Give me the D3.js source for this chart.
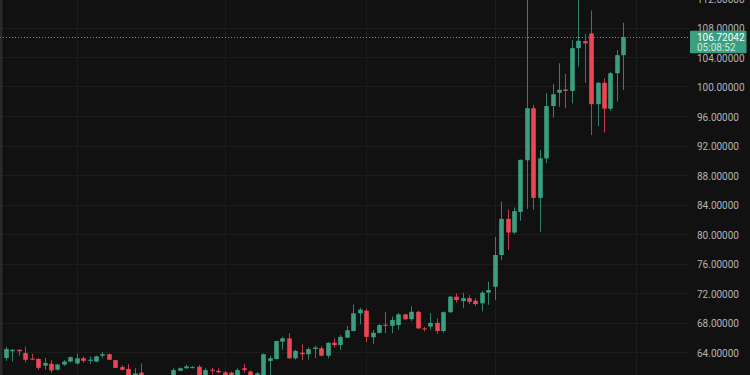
<!DOCTYPE html>
<html>
<head>
<meta charset="utf-8">
<script src="https://cdn.jsdelivr.net/npm/d3@7"></script>
<style>
  html, body { margin: 0; padding: 0; background: #111111; overflow: hidden; }
  svg { display: block; }
</style>
</head>
<body>
<div id="div_chart"></div>
<script>
var width_chart = 750;
var height_chart = 375;
var plot_right = 690;

// candles, oldest first
var opens = [63.2, 64.1, 64.3, 63.85, 63.1, 63.05, 62.15, 62.4, 61.6, 62.3,
  62.7, 62.45, 63.15, 62.8, 62.7, 63.5, 63.7, 62.9, 61.95, 61.7,
  60.7, 61.2, 60.6, 59.9, 60.3, 59.8, 60.5, 61.45, 61.8, 61.9,
  62.0, 60.8, 61.6, 61.45, 61.25, 61.2, 60.7, 61.8, 61.35, 60.8,
  60.8, 62.8, 63.05, 65.4, 65.85, 63.15, 63.9, 63.7, 64.4, 64.5,
  63.5, 65.25, 64.95, 65.95, 66.85, 69.25, 69.6, 66.0, 66.6, 67.7,
  67.55, 67.65, 69.1, 68.45, 69.45, 67.2, 67.45, 67.95, 66.85, 69.4,
  71.5, 70.9, 71.3, 70.95, 70.6, 72.05, 72.85, 77.15, 82.05, 80.2,
  83.0, 90.0, 97.05, 84.9, 90.25, 97.35, 99.15, 99.6, 99.4, 105.2,
  106.15, 107.2, 97.6, 100.5, 97.0, 101.8, 104.25];
var highs = [64.7, 64.4, 64.35, 64.75, 63.75, 63.2, 63.2, 62.9, 62.4, 62.9,
  63.4, 63.8, 63.4, 63.4, 63.5, 64.0, 63.8, 62.95, 62.2, 62.35,
  61.8, 62.45, 60.8, 60.5, 60.5, 60.7, 61.85, 61.9, 62.3, 62.1,
  62.25, 61.85, 61.85, 61.8, 61.4, 61.35, 61.8, 62.4, 61.5, 61.3,
  63.8, 63.5, 65.5, 66.05, 66.55, 64.3, 65.05, 64.65, 64.85, 64.8,
  65.3, 65.85, 66.3, 67.55, 70.45, 70.0, 69.85, 67.0, 67.8, 69.45,
  68.8, 69.3, 69.2, 70.2, 69.6, 67.4, 69.25, 68.55, 69.5, 71.6,
  71.95, 72.05, 71.7, 71.3, 72.3, 73.55, 79.6, 84.4, 83.35, 83.6,
  90.1, 113.5, 97.5, 91.4, 99.1, 100.35, 103.15, 101.7, 106.3, 113.0,
  107.1, 110.3, 100.6, 101.1, 102.0, 104.95, 108.65];
var lows = [62.8, 62.7, 63.5, 62.6, 62.9, 61.55, 61.6, 61.15, 61.5, 62.1,
  62.6, 62.3, 62.5, 62.4, 62.6, 63.2, 62.9, 61.8, 61.5, 60.5,
  60.4, 60.3, 59.5, 59.6, 59.4, 59.6, 60.3, 61.4, 61.7, 61.8,
  60.6, 60.6, 61.0, 61.1, 60.6, 60.5, 60.5, 61.2, 60.6, 60.6,
  60.6, 60.8, 63.0, 64.3, 63.05, 63.0, 62.9, 62.95, 63.15, 63.4,
  63.15, 64.6, 64.3, 65.9, 66.8, 67.75, 65.4, 65.1, 66.5, 66.55,
  66.55, 67.0, 68.3, 68.2, 67.1, 66.8, 67.0, 66.45, 66.6, 69.3,
  70.7, 69.95, 70.5, 70.2, 69.5, 70.4, 71.05, 76.45, 77.85, 80.0,
  81.8, 83.4, 83.3, 80.3, 89.6, 95.8, 97.25, 97.05, 97.7, 102.7,
  100.5, 93.4, 94.65, 93.75, 96.7, 97.95, 99.55];
var closes = [64.4, 64.3, 64.1, 62.95, 63.0, 61.85, 62.5, 61.5, 62.3, 62.7,
  63.3, 63.15, 62.8, 62.95, 63.4, 63.7, 62.95, 61.85, 61.6, 60.8,
  61.1, 60.6, 59.9, 60.3, 59.8, 60.5, 61.55, 61.8, 62.05, 61.95,
  60.8, 61.55, 61.5, 61.25, 60.8, 60.7, 61.55, 61.55, 60.8, 61.1,
  63.7, 63.15, 65.5, 65.85, 63.15, 64.15, 63.7, 64.4, 64.6, 63.5,
  65.25, 64.95, 66.05, 66.95, 69.25, 69.75, 66.05, 66.6, 67.65, 67.55,
  68.35, 69.1, 68.45, 69.45, 67.2, 67.1, 67.95, 66.85, 69.4, 71.5,
  71.05, 71.3, 70.8, 70.5, 72.05, 72.4, 77.15, 82.05, 80.2, 83.1,
  90.05, 97.05, 84.9, 90.25, 97.35, 98.95, 99.55, 99.4, 105.2, 106.2,
  105.85, 97.6, 100.5, 97.0, 101.8, 104.25, 106.72];

var price_ticks = [64, 68, 72, 76, 80, 84, 88, 92, 96, 100, 104, 108, 112];
var grid_bars = [11, 34, 56, 76, 98];
var last_price = 106.72042;
var countdown = "05:08:52";

var up_color = "#3a9f81";
var down_color = "#ec4654";

var candles = opens.map(function (o, i) {
    return {i: i, o: o, h: highs[i], l: lows[i], c: closes[i]};
});

var svg = d3.select('#div_chart').append("svg")
    .attr("width", width_chart)
    .attr("height", height_chart);

svg.append("rect")
    .attr("width", width_chart)
    .attr("height", height_chart)
    .attr("fill", "#111111");

var x = d3.scaleLinear().domain([0, candles.length - 1]).range([6, 623.3]);
var y = d3.scaleLinear().domain([64, 108]).range([352, 27.5]);

// grid
svg.append("g").selectAll("line")
    .data(price_ticks)
    .enter().append("line")
    .attr("x1", 0).attr("x2", plot_right)
    .attr("y1", function (d) { return Math.round(y(d)) + 0.5; })
    .attr("y2", function (d) { return Math.round(y(d)) + 0.5; })
    .attr("stroke", "#1c1c1c");

svg.append("g").selectAll("line")
    .data(grid_bars)
    .enter().append("line")
    .attr("x1", function (d) { return Math.round(x(d)) + 0.5; })
    .attr("x2", function (d) { return Math.round(x(d)) + 0.5; })
    .attr("y1", 0).attr("y2", height_chart)
    .attr("stroke", "#1c1c1c");

// left edge strip
svg.append("rect")
    .attr("x", 0).attr("y", 0)
    .attr("width", 2.5).attr("height", height_chart)
    .attr("fill", "#2a2a2a");

function colorOf(d) {
    return d.c >= d.o ? up_color : down_color;
}

var candle = svg.append("g").selectAll(".candle")
    .data(candles)
    .enter().append("g")
    .attr("class", "candle");

candle.append("line")
    .attr("x1", function (d) { return Math.round(x(d.i)) + 0.5; })
    .attr("x2", function (d) { return Math.round(x(d.i)) + 0.5; })
    .attr("y1", function (d) { return y(d.h); })
    .attr("y2", function (d) { return y(d.l); })
    .attr("stroke", colorOf)
    .attr("stroke-opacity", 0.8)
    .attr("stroke-width", 1);

candle.append("rect")
    .attr("x", function (d) { return Math.round(x(d.i)) + 0.5 - 2.3; })
    .attr("y", function (d) { return y(Math.max(d.o, d.c)); })
    .attr("width", 4.6)
    .attr("height", function (d) { return Math.max(1, Math.abs(y(d.o) - y(d.c))); })
    .attr("fill", colorOf);

// last price line
svg.append("line")
    .attr("x1", 0).attr("x2", plot_right)
    .attr("y1", Math.round(y(last_price)) + 0.5)
    .attr("y2", Math.round(y(last_price)) + 0.5)
    .attr("stroke", up_color)
    .attr("stroke-dasharray", "1,2");

// price axis
var axis = svg.append("g")
    .attr("transform", "translate(" + plot_right + ",0.8)")
    .call(d3.axisRight(y).tickValues(price_ticks).tickFormat(d3.format(".5f")).tickSize(0).tickPadding(7));
axis.select(".domain").remove();
axis.selectAll("text")
    .attr("fill", "#b4b4b4")
    .style("font-family", "Roboto, sans-serif")
    .style("font-size", "10px");

// last price label
var ly = y(last_price);
svg.append("rect")
    .attr("x", plot_right)
    .attr("y", ly - 6.2)
    .attr("width", 56.5)
    .attr("height", 22.5)
    .attr("rx", 1)
    .attr("fill", up_color);
svg.append("text")
    .attr("x", plot_right + 7)
    .attr("y", ly + 4.4)
    .attr("fill", "#ffffff")
    .style("font-family", "Roboto, sans-serif")
    .style("font-size", "10px")
    .text(d3.format(".5f")(last_price));
svg.append("text")
    .attr("x", plot_right + 7)
    .attr("y", ly + 14)
    .attr("fill", "#cfe9df")
    .style("font-family", "Roboto, sans-serif")
    .style("font-size", "10px")
    .text(countdown);
</script>
</body>
</html>
